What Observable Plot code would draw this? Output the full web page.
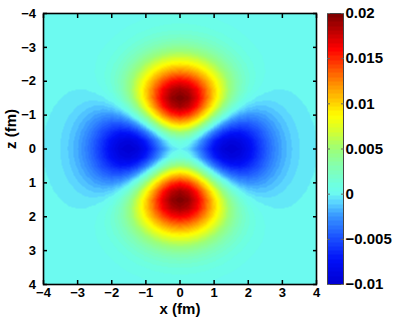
<!DOCTYPE html>
<html><head><meta charset="utf-8">
<script src="https://cdn.jsdelivr.net/npm/d3@7"></script>
<script src="https://cdn.jsdelivr.net/npm/@observablehq/plot@0.6"></script>
<style>
body{margin:0;background:#fff;}
#wrap{position:relative;width:395px;height:321px;font-family:"Liberation Sans",Arial,sans-serif;}
#main{position:absolute;left:0;top:0;}
#bar{position:absolute;left:320px;top:0;}
</style></head><body><div id="wrap"><div id="main"></div><div id="bar"></div></div>
<script>
// grid coordinates (fm) of one quadrant, x >= 0 and z >= 0; field is symmetric in x and z
const gridCoords = [0,0.25,0.5,0.75,1,1.25,1.5,1.75,2,2.25,2.5,2.75,3,3.25,3.5,3.75,4];
// field values in units of 1e-4; one row per z in gridCoords, one column per x in gridCoords
const fieldRows = [
  [0,-7.3,-27.0,-52.9,-77.5,-94.3,-100.0,-94.9,-81.7,-64.5,-47.0,-31.7,-19.9,-11.7,-6.4,-3.3,-1.6],
  [14.7,7.1,-13.1,-40.0,-65.9,-84.3,-91.9,-88.5,-76.9,-61.1,-44.8,-30.3,-19.1,-11.2,-6.2,-3.2,-1.5],
  [54.1,46.0,24.2,-5.3,-34.7,-57.4,-69.6,-71.0,-63.9,-52.0,-38.7,-26.5,-16.8,-10.0,-5.5,-2.8,-1.4],
  [105.8,97.2,73.7,41.2,7.5,-20.6,-38.9,-46.7,-45.7,-39.1,-30.0,-21.0,-13.6,-8.1,-4.5,-2.4,-1.1],
  [154.9,146.0,121.3,86.7,49.7,16.9,-7.1,-21.1,-26.2,-25.0,-20.5,-15.0,-9.9,-6.1,-3.4,-1.8,-0.9],
  [188.5,179.7,155.2,120.4,82.2,47.1,19.4,1.0,-8.9,-12.3,-11.7,-9.3,-6.5,-4.1,-2.4,-1.3,-0.6],
  [200.0,191.8,169.0,136.3,99.7,65.2,36.8,16.4,3.8,-2.6,-4.8,-4.7,-3.7,-2.5,-1.5,-0.8,-0.4],
  [189.7,182.6,162.8,134.2,101.8,70.6,44.2,24.3,11.1,3.5,-0.2,-1.5,-1.6,-1.3,-0.8,-0.5,-0.3],
  [163.4,157.6,141.6,118.3,91.7,65.7,43.2,25.9,13.8,6.3,2.2,0.3,-0.4,-0.5,-0.4,-0.2,-0.1],
  [128.9,124.6,112.5,94.8,74.5,54.4,36.9,23.1,13.2,6.8,3.1,1.1,0.3,-0.1,-0.1,-0.1,-0.1],
  [93.9,90.9,82.4,69.9,55.4,41.0,28.3,18.2,10.8,5.9,2.9,1.3,0.5,0.1,0,0,0],
  [63.4,61.4,55.8,47.5,38.0,28.4,19.9,13.0,7.9,4.5,2.3,1.1,0.5,0.2,0.1,0,0],
  [39.8,38.6,35.2,30.1,24.1,18.2,12.8,8.5,5.2,3.0,1.6,0.8,0.4,0.2,0.1,0,0],
  [23.3,22.6,20.6,17.7,14.3,10.8,7.7,5.1,3.2,1.9,1.0,0.5,0.3,0.1,0,0,0],
  [12.8,12.4,11.3,9.7,7.9,6.0,4.3,2.9,1.8,1.1,0.6,0.3,0.2,0.1,0,0,0],
  [6.6,6.4,5.8,5.0,4.1,3.1,2.2,1.5,1.0,0.6,0.3,0.2,0.1,0,0,0,0],
  [3.2,3.1,2.8,2.4,2.0,1.5,1.1,0.7,0.5,0.3,0.2,0.1,0,0,0,0,0]
];
const xTicks = [-4,-3,-2,-1,0,1,2,3,4];
const zTicks = [-4,-3,-2,-1,0,1,2,3,4];
const colorTicks = [-0.01,-0.005,0,0.005,0.01,0.015,0.02];
const colorDomain = [-0.01, 0.02];
const colorStopValues = [-0.01,-0.0075,-0.005,-0.0025,-0.001,0,0.0008,0.003,0.005,0.007,0.00875,0.0125,0.01625,0.02];
const colorStopColors = ["#0000d4","#0010f8","#1a50ff","#3898ff","#5ad4ff","#6cfaf0","#6cffe4","#84ffb0","#9cff78","#d4ff30","#ffff00","#ff8800","#ff0000","#800000"];
const colorLevels = 64;

// build the full symmetric point table from the quadrant
const points = [];
fieldRows.forEach((row, j) => row.forEach((val, i) => {
  for (const sx of (i ? [-1, 1] : [1])) for (const sz of (j ? [-1, 1] : [1]))
    points.push({x: sx * gridCoords[i], z: sz * gridCoords[j], v: val * 1e-4});
}));

const ramp = d3.scaleLinear().domain(colorStopValues).range(colorStopColors).interpolate(d3.interpolateRgb).clamp(true);
const span = colorDomain[1] - colorDomain[0];
const interp = t => {
  const k = Math.max(0, Math.min(colorLevels - 1, Math.floor(t * colorLevels)));
  return ramp(colorDomain[0] + k / (colorLevels - 1) * span);
};
const colorOpts = {type: "linear", domain: colorDomain, interpolate: interp, clamp: true};
const font = "'Liberation Sans', Arial, sans-serif";
const fmt = d => (d < 0 ? "\u2212" : "") + String(Math.abs(d));

const main = Plot.plot({
  width: 320, height: 321,
  marginLeft: 43, marginRight: 4, marginTop: 13, marginBottom: 37,
  style: {fontFamily: font, fontSize: "13px", fontWeight: "bold", color: "black", background: "white", overflow: "visible"},
  x: {domain: [-4, 4]},
  y: {domain: [-4, 4], reverse: true},
  color: colorOpts,
  marks: [
    Plot.raster(points, {x: "x", y: "z", fill: "v", x1: -4, x2: 4, y1: -4, y2: 4, interpolate: "barycentric"}),
    Plot.frame({stroke: "black", strokeWidth: 1.6}),
    Plot.axisX(xTicks, {anchor: "bottom", tickSize: -4, tickPadding: 7, strokeWidth: 1.5, tickFormat: fmt, label: null}),
    Plot.axisX(xTicks, {anchor: "top", tickSize: -4, strokeWidth: 1.5, tickFormat: () => "", label: null}),
    Plot.axisY(zTicks, {anchor: "left", tickSize: -4, tickPadding: 11.5, strokeWidth: 1.5, tickFormat: fmt, label: null}),
    Plot.axisY(zTicks, {anchor: "right", tickSize: -4, strokeWidth: 1.5, tickFormat: () => "", label: null}),
    Plot.text(["x (fm)"], {frameAnchor: "bottom", dy: 29, fontSize: 15, fontWeight: "bold", fill: "black"}),
    Plot.text(["z (fm)"], {frameAnchor: "left", dx: -32, rotate: -90, fontSize: 15, fontWeight: "bold", fill: "black"})
  ]
});
document.getElementById("main").append(main);

const bar = Plot.plot({
  width: 75, height: 321,
  marginLeft: 7, marginRight: 52, marginTop: 13, marginBottom: 37,
  style: {fontFamily: font, fontSize: "15px", fontWeight: "bold", color: "black", background: "transparent", overflow: "visible"},
  x: {domain: [0, 1], axis: null},
  y: {domain: colorDomain},
  color: colorOpts,
  marks: [
    Plot.raster({fill: (x, y) => y, x1: 0, x2: 1, y1: colorDomain[0], y2: colorDomain[1]}),
    Plot.frame({stroke: "#444", strokeWidth: 1}),
    Plot.axisY(colorTicks, {anchor: "right", tickSize: -3, tickPadding: 5, stroke: "#666", tickFormat: fmt, label: null}),
    Plot.axisY(colorTicks, {anchor: "left", tickSize: -3, stroke: "#666", tickFormat: () => "", label: null})
  ]
});
document.getElementById("bar").append(bar);
</script></body></html>
